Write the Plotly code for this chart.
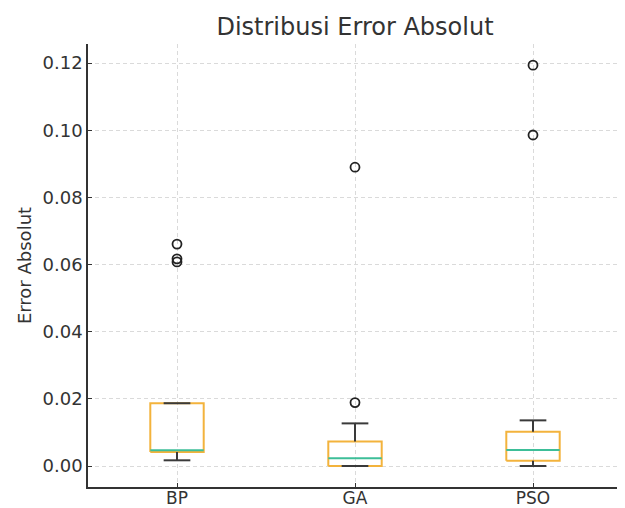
import plotly.graph_objects as go

categories = ["BP", "GA", "PSO"]
q1 = [0.0042, 0.0000, 0.0016]
median = [0.0047, 0.0023, 0.0048]
q3 = [0.0187, 0.0073, 0.0102]
whisker_low = [0.0017, 0.0000, 0.0000]
whisker_high = [0.0187, 0.0127, 0.0136]
outliers = [[0.0661, 0.0617, 0.0608], [0.0890, 0.0189], [0.1194, 0.0986]]

positions = [1, 2, 3]
box_w = 0.3
cap_w = 0.15

BOX_C = "#F3B33C"
MED_C = "#3DBE98"
WHISK_C = "#3a3a3a"
FONT = "DejaVu Sans"
TXT = "#333333"

bx, by, wx, wy, cx, cy, mx, my, ox, oy = [], [], [], [], [], [], [], [], [], []
for p, a, m, b, lo, hi, outs in zip(positions, q1, median, q3, whisker_low, whisker_high, outliers):
    l, r = p - box_w / 2, p + box_w / 2
    bx += [l, r, r, l, l, None]
    by += [a, a, b, b, a, None]
    wx += [p, p, None, p, p, None]
    wy += [a, lo, None, b, hi, None]
    cl, cr = p - cap_w / 2, p + cap_w / 2
    cx += [cl, cr, None, cl, cr, None]
    cy += [lo, lo, None, hi, hi, None]
    mx += [l, r, None]
    my += [m, m, None]
    ox += [p] * len(outs)
    oy += outs

fig = go.Figure()
fig.add_trace(go.Scatter(x=bx, y=by, mode="lines", line=dict(color=BOX_C, width=2), hoverinfo="skip"))
fig.add_trace(go.Scatter(x=wx, y=wy, mode="lines", line=dict(color=WHISK_C, width=2), hoverinfo="skip"))
fig.add_trace(go.Scatter(x=cx, y=cy, mode="lines", line=dict(color=WHISK_C, width=2), hoverinfo="skip"))
fig.add_trace(go.Scatter(x=mx, y=my, mode="lines", line=dict(color=MED_C, width=2), hoverinfo="skip"))
fig.add_trace(go.Scatter(x=ox, y=oy, mode="markers",
                         marker=dict(symbol="circle-open", size=9, color="#222222", line=dict(width=1.8))))

# the page body adds an 8px offset, so the figure is sized to fit inside the window
fig.update_layout(
    width=617, height=500,
    margin=dict(l=80, r=3, t=36, b=21, autoexpand=False),
    paper_bgcolor="white", plot_bgcolor="white",
    showlegend=False,
    font=dict(family=FONT, color=TXT, size=18),
    title=dict(text="Distribusi Error Absolut", x=0.5, xref="paper", xanchor="center",
               y=0.962, yanchor="middle", yref="container",
               font=dict(family=FONT, size=24, color=TXT)),
)
fig.update_xaxes(range=[0.5, 3.5], tickvals=positions, ticktext=categories,
                 showgrid=True, gridcolor="#dadada", griddash="4px,3px", gridwidth=1,
                 showline=True, linecolor="#333333", linewidth=1.5,
                 ticks="inside", ticklen=4, tickcolor="#333333", zeroline=False,
                 tickfont=dict(size=17), ticklabelstandoff=-5, automargin=False)
fig.update_yaxes(range=[-0.00625, 0.1257], tickvals=[0, 0.02, 0.04, 0.06, 0.08, 0.10, 0.12],
                 tickformat=".2f",
                 showgrid=True, gridcolor="#dadada", griddash="4px,3px", gridwidth=1,
                 showline=True, linecolor="#333333", linewidth=1.5,
                 ticks="inside", ticklen=4, tickcolor="#333333", zeroline=False,
                 tickfont=dict(size=18), automargin=False,
                 title=dict(text="Error Absolut", standoff=6, font=dict(size=18)))

fig.write_html("out.html")
